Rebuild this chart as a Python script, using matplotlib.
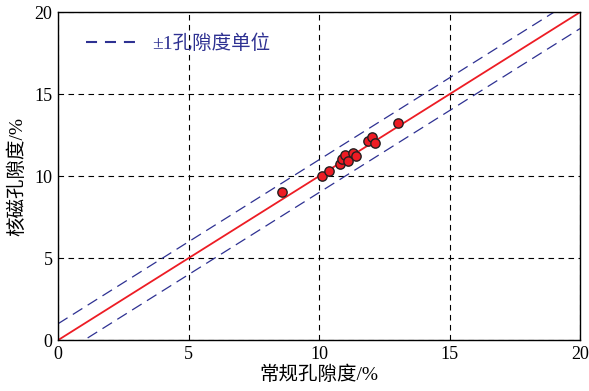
import numpy as np
from matplotlib import pyplot as plt

plt.rcParams['font.family'] = ['Liberation Serif', 'Noto Sans CJK SC']

conv_por = [8.58, 10.11, 10.38, 10.8, 10.88, 11.0, 11.1, 11.3, 11.42, 11.88, 12.03, 12.15, 13.03]
nmr_por = [9.02, 10.0, 10.3, 10.73, 11.04, 11.28, 10.9, 11.4, 11.22, 12.13, 12.38, 12.0, 13.23]
ticks = [0, 5, 10, 15, 20]

fig = plt.figure(figsize=(5.89, 3.91), dpi=100)
ax = fig.add_axes([0.0985, 0.130, 0.8865, 0.839])

line = np.array([0, 20])
ax.plot(line, line + 1, ls=(0, (9, 5)), color='#2e3192', lw=0.9)
ax.plot(line, line - 1, ls=(0, (9, 5)), color='#2e3192', lw=0.9)
ax.plot([], [], ls=(0, (5.3, 3.8)), color='#2e3192', lw=1.5, label='±1孔隙度单位')
ax.plot(line, line, color='#ed1c24', lw=1.3)
ax.scatter(conv_por, nmr_por, s=45, color='#ed1c24', edgecolor='#231f20', lw=1.0, zorder=5)

ax.set_xlim(0, 20)
ax.set_ylim(0, 20)
ax.set_xticks(ticks)
ax.set_yticks(ticks)
ax.tick_params(length=0, labelsize=13, pad=4)
ax.grid(True, ls=(0, (5, 4)), color='black', lw=0.8)
for sp in ax.spines.values():
    sp.set_linewidth(1.0)
ax.set_xlabel('常规孔隙度/%', fontsize=14, labelpad=2)
ax.set_ylabel('核磁孔隙度/%', fontsize=14, labelpad=6)
leg = ax.legend(loc='upper left', frameon=False, fontsize=14, handlelength=2.57,
                handletextpad=0.84, bbox_to_anchor=(0.02, 0.985))
for t in leg.get_texts():
    t.set_color('#2e3192')

fig.savefig('out.png', dpi=100)
